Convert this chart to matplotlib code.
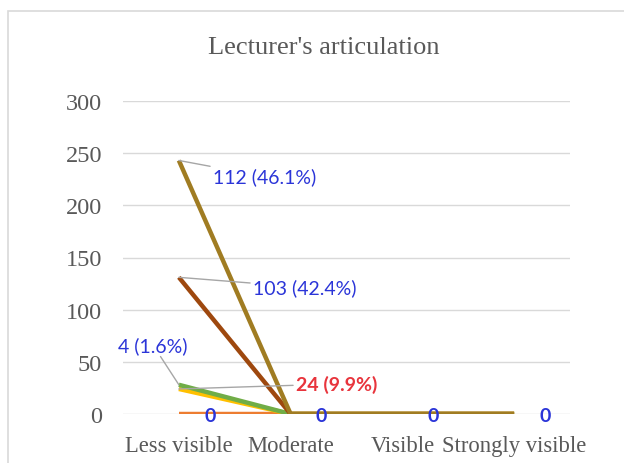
import matplotlib
matplotlib.use("Agg")
import matplotlib.pyplot as plt
from matplotlib.patches import Rectangle
import numpy as np

categories = ["Less visible", "Moderate", "Visible", "Strongly visible"]
orange_vals = [0, 0, 0, 0]
yellow_vals = [24, 0, 0, 0]
green_vals = [4, 0, 0, 0]
brown_vals = [103, 0, 0, 0]
gold_vals = [112, 0, 0, 0]
yticks = [0, 50, 100, 150, 200, 250, 300]
title = "Lecturer's articulation"

colors = ["#ED7D31", "#FFC000", "#70AD47", "#9E480E", "#A07C22"]
series = [orange_vals, yellow_vals, green_vals, brown_vals, gold_vals]

fig = plt.figure(figsize=(6.24, 4.64), dpi=100)
W, H = 624, 464
ax = fig.add_axes([123 / W, 1 - 415 / H, (570 - 123) / W, (415 - 102) / H])

x = np.arange(len(categories))
cum = np.zeros(len(categories))
stacks = []
for i, (vals, c) in enumerate(zip(series, colors)):
    cum = cum + np.array(vals)
    stacks.append(cum.copy())
    ax.plot(x, cum, color=c, lw=3.2, solid_capstyle="butt", zorder=3 + i)

ax.set_xlim(-0.5, 3.5)
ax.set_ylim(0, 300)
ax.set_yticks(yticks)
ax.set_xticks(x)
ax.set_xticklabels(categories)
ax.grid(axis="y", color="#d9d9d9", lw=1)
ax.set_axisbelow(True)
for s in ax.spines.values():
    s.set_visible(False)
ax.tick_params(length=0, labelcolor="#595959")
ax.tick_params(axis="y", labelsize=17.5, pad=15)
ax.tick_params(axis="x", labelsize=16.3, pad=15)
for lab in ax.get_xticklabels() + ax.get_yticklabels():
    lab.set_fontfamily("Liberation Serif")

fig.text(324 / W, 1 - 48 / H, title, ha="center", va="center",
         fontsize=19, family="Liberation Serif", color="#595959")

total = sum(v[0] for v in series[1:])
blue = "#2b35d8"
red = "#e8343c"
lab_font = dict(family="Lato", fontsize=14)
leader = dict(arrowstyle="-", color="#a6a6a6", lw=1, shrinkA=0, shrinkB=0)


def pct(v):
    return f"{v} ({v / total * 100:.1f}%)"


ax.annotate(pct(gold_vals[0]), xy=(0, stacks[4][0]), xytext=(34, -16),
            textcoords="offset pixels", ha="left", va="center", color=blue,
            arrowprops=leader, zorder=10, **lab_font)
ax.annotate(pct(brown_vals[0]), xy=(0, stacks[3][0]), xytext=(74, -10),
            textcoords="offset pixels", ha="left", va="center", color=blue,
            arrowprops=leader, zorder=10, **lab_font)
ax.annotate(pct(green_vals[0]), xy=(0, stacks[2][0]), xytext=(-26, 40),
            textcoords="offset pixels", ha="center", va="center", color=blue,
            arrowprops=leader, zorder=10, **lab_font)
ax.annotate(pct(yellow_vals[0]), xy=(0, stacks[1][0]), xytext=(117, 5),
            textcoords="offset pixels", ha="left", va="center", color=red,
            fontweight="bold", arrowprops=leader, zorder=10, **lab_font)

for xi, v in zip(x, orange_vals):
    ax.annotate(str(v), xy=(xi, v), xytext=(31, -2), textcoords="offset pixels",
                ha="center", va="center", color=blue, fontweight="bold",
                zorder=20, **lab_font)

fig.patches.append(Rectangle((8 / W, -0.05), 1.0, 1 - 12 / H + 0.05,
                             transform=fig.transFigure, fill=False,
                             edgecolor="#d9d9d9", lw=1.2))

fig.savefig("out.png", dpi=100)
